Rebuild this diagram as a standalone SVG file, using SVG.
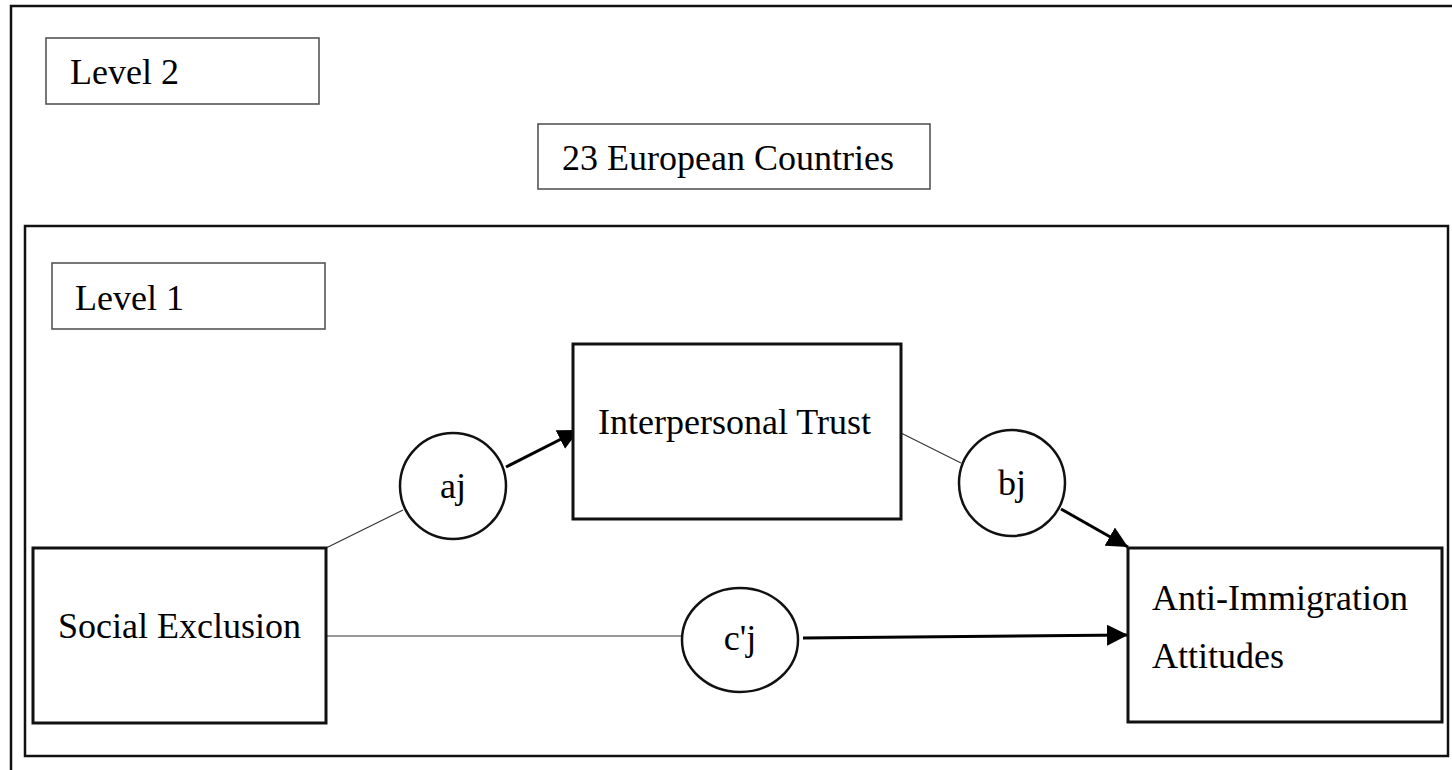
<svg xmlns="http://www.w3.org/2000/svg" width="1452" height="770" viewBox="0 0 1452 770">
<style>
text{font-family:"Liberation Serif","Times New Roman",serif;font-size:36px;fill:#000}
.frame{fill:none;stroke:#111;stroke-width:2.5}
.label{fill:#fff;stroke:#555;stroke-width:1.6}
.node{fill:#fff;stroke:#111;stroke-width:3}
.circ{fill:#fff;stroke:#111;stroke-width:2.5}
.thin{stroke:#333;stroke-width:1.2;fill:none}
.thick{stroke:#000;stroke-width:3;fill:none}
</style>
<defs>
<marker id="arrow" viewBox="0 0 10 10" refX="10" refY="5" markerWidth="21" markerHeight="21" markerUnits="userSpaceOnUse" orient="auto">
<path d="M0,0 L10,5 L0,10 z" fill="#000"/>
</marker>
</defs>
<rect width="1452" height="770" fill="#fff"/>
<g id="frame-level2"><path class="frame" d="M11,775 L11,6 L1460,6"/></g>
<g id="frame-level1"><rect class="frame" x="25" y="226" width="1423" height="530"/></g>
<g id="level2-label"><rect class="label" x="46" y="38" width="273" height="66"/><text x="70" y="84">Level 2</text></g>
<g id="countries"><rect class="label" x="538" y="124" width="392" height="65"/><text x="562" y="170">23 European Countries</text></g>
<g id="level1-label"><rect class="label" x="52" y="263" width="273" height="66"/><text x="75" y="310">Level 1</text></g>
<g id="connectors">
<line class="thin" x1="326" y1="548" x2="403" y2="510"/>
<line class="thick" x1="506" y1="467" x2="579" y2="430" marker-end="url(#arrow)"/>
<line class="thin" x1="901" y1="433" x2="961" y2="463"/>
<line class="thick" x1="1061" y1="509" x2="1128" y2="547" marker-end="url(#arrow)"/>
<line class="thin" x1="326" y1="636" x2="682" y2="636"/>
<line class="thick" x1="803" y1="638" x2="1128" y2="635" marker-end="url(#arrow)"/>
</g>
<g id="social-exclusion"><rect class="node" x="33" y="548" width="293" height="175"/><text x="58" y="638">Social Exclusion</text></g>
<g id="interpersonal-trust"><rect class="node" x="573" y="344" width="328" height="175"/><text x="598" y="434">Interpersonal Trust</text></g>
<g id="anti-immigration"><rect class="node" x="1128" y="548" width="314" height="174"/><text x="1152" y="610">Anti-Immigration</text><text x="1152" y="668">Attitudes</text></g>
<g id="aj"><circle class="circ" cx="453" cy="486" r="53"/><text x="453" y="498" text-anchor="middle">aj</text></g>
<g id="bj"><circle class="circ" cx="1012" cy="483" r="53"/><text x="1012" y="495" text-anchor="middle">bj</text></g>
<g id="cj"><ellipse class="circ" cx="740" cy="640" rx="58" ry="52"/><text x="740" y="650" text-anchor="middle">c'j</text></g>
</svg>
